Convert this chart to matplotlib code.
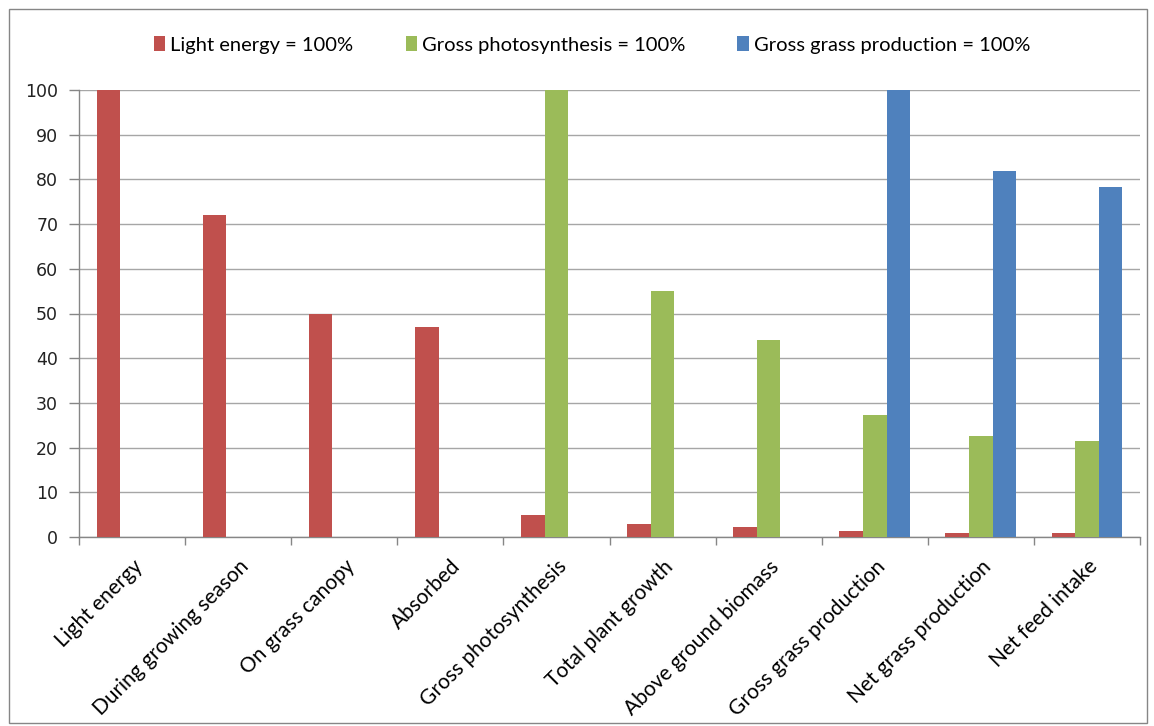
import numpy as np
import matplotlib
matplotlib.use("Agg")
import matplotlib.pyplot as plt
from matplotlib.patches import Rectangle

categories = ["Light energy", "During growing season", "On grass canopy", "Absorbed",
              "Gross photosynthesis", "Total plant growth", "Above ground biomass",
              "Gross grass production", "Net grass production", "Net feed intake"]
light_energy = [100, 72, 50, 47, 5.0, 2.8, 2.3, 1.3, 1.0, 1.0]
gross_photosynthesis = [0, 0, 0, 0, 100, 55, 44, 27.4, 22.6, 21.4]
gross_grass = [0, 0, 0, 0, 0, 0, 0, 100, 81.8, 78.2]
series_names = ["Light energy = 100%", "Gross photosynthesis = 100%",
                "Gross grass production = 100%"]
colors = ["#C0504D", "#9BBB59", "#4F81BD"]
yticks = list(range(0, 101, 10))

fig = plt.figure(figsize=(11.54, 7.26), dpi=100)
fig.patch.set_facecolor("white")
fig.add_artist(Rectangle((9 / 1154, 0.004), 1138 / 1154, 1 - 9 / 726 - 0.004,
                         transform=fig.transFigure, fill=False,
                         edgecolor="#868686", linewidth=1.0))

ax = fig.add_axes([79 / 1154, 1 - 537 / 726, (1140 - 79) / 1154, (537 - 90) / 726])

x = np.arange(len(categories))
w = 1 / 4.5
for i, (vals, c, name) in enumerate(zip([light_energy, gross_photosynthesis, gross_grass],
                                        colors, series_names)):
    ax.bar(x + (i - 1) * w, vals, width=w, color=c, label=name, zorder=3)

ax.set_xlim(-0.5, len(categories) - 0.5)
ax.set_ylim(0, 100)
ax.set_yticks(yticks)
ax.set_yticklabels([str(t) for t in yticks], fontsize=12.5, family="DejaVu Sans",
                   color="#222222")
ax.yaxis.grid(True, color="#A6A6A6", linewidth=1.0, zorder=0)
ax.set_axisbelow(True)

ax.set_xticks(np.arange(len(categories) + 1) - 0.5, minor=False)
ax.set_xticklabels([])
ax.set_xticks(x, minor=True)
ax.set_xticklabels(categories, minor=True, rotation=45, ha="right",
                   rotation_mode="anchor", fontsize=15, family="Lato")
ax.tick_params(axis="x", which="minor", length=0, pad=14)
ax.tick_params(axis="x", which="major", length=6, color="#868686", width=1)
ax.tick_params(axis="y", length=7, color="#868686", width=1, pad=8)

for s in ["top", "right"]:
    ax.spines[s].set_visible(False)
for s in ["left", "bottom"]:
    ax.spines[s].set_color("#868686")
    ax.spines[s].set_linewidth(1)

fig.legend(loc="center", bbox_to_anchor=(592 / 1154, 1 - 45 / 726), ncol=3, frameon=False,
           prop={"family": "Lato", "size": 14.5}, handlelength=0.55, handleheight=0.75,
           handletextpad=0.25, columnspacing=2.6)

fig.savefig("out.png", dpi=100)
